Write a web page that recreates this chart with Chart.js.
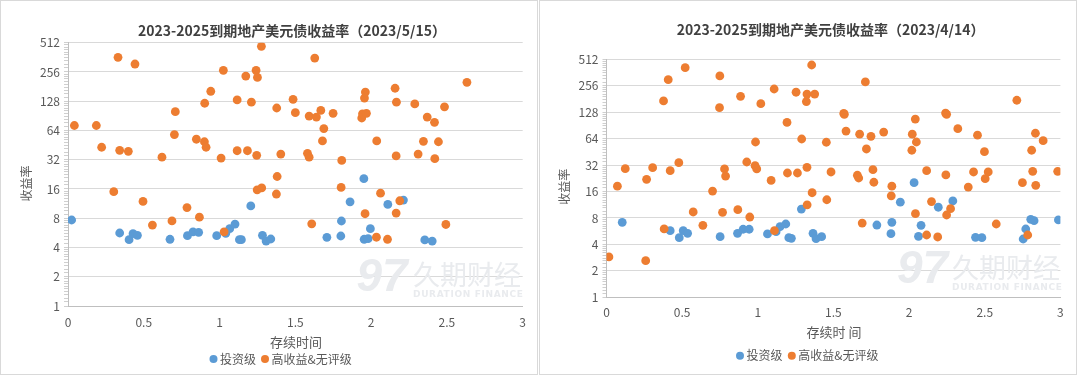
<!DOCTYPE html>
<html>
<head>
<meta charset="utf-8">
<script src="https://cdn.jsdelivr.net/npm/chart.js@4"></script>
<style>
  body { margin: 0; background: #fff; }
  .panel { position: absolute; top: 0; width: 538px; height: 375px; border: 1px solid #d9d9d9; box-sizing: border-box; }
  #p1 { left: 0; }
  #p2 { left: 539px; }
  canvas { display: block; }
</style>
</head>
<body>
<div class="panel" id="p1"><canvas id="c1" width="536" height="373"></canvas></div>
<div class="panel" id="p2"><canvas id="c2" width="536" height="373"></canvas></div>
<script>
// 系列名 / 刻度
const seriesNames = ['投资级', '高收益&无评级'];
const yTickLabels = [1, 2, 4, 8, 16, 32, 64, 128, 256, 512];
const xTickLabels = [0, 0.5, 1, 1.5, 2, 2.5, 3];

// 2023/5/15 投资级
const mayInvX = [0.024, 0.341, 0.403, 0.429, 0.458, 0.673, 0.788, 0.825, 0.862, 0.981, 1.041, 1.067, 1.102, 1.131, 1.144, 1.206,
  1.283, 1.307, 1.338, 1.708, 1.8, 1.804, 1.861, 1.952, 1.954, 1.98, 1.995, 2.11, 2.213, 2.354, 2.403];
const mayInvY = [7.67, 5.64, 4.81, 5.55, 5.33, 4.86, 5.29, 5.8, 5.73, 5.29, 5.6, 6.24, 6.97, 4.81, 4.81, 10.7,
  5.33, 4.66, 4.89, 5.09, 5.25, 7.49, 11.8, 20.4, 4.86, 4.93, 6.24, 11.1, 12.3, 4.78, 4.66];
// 2023/5/15 高收益&无评级
const mayHyX = [0.042, 0.187, 0.222, 0.302, 0.33, 0.341, 0.398, 0.442, 0.495, 0.557, 0.62, 0.686, 0.702, 0.708, 0.785, 0.847,
  0.867, 0.9, 0.902, 0.911, 0.942, 1.01, 1.025, 1.03, 1.116, 1.116, 1.173, 1.184, 1.21, 1.241, 1.245, 1.248, 1.25, 1.276,
  1.278, 1.375, 1.377, 1.38, 1.404, 1.485, 1.5, 1.58, 1.591, 1.591, 1.608, 1.628, 1.639, 1.668, 1.679, 1.688, 1.749, 1.802,
  1.806, 1.938, 1.943, 1.956, 1.96, 1.962, 1.969, 2.035, 2.037, 2.062, 2.108, 2.158, 2.165, 2.165, 2.167, 2.189, 2.288,
  2.31, 2.345, 2.37, 2.418, 2.42, 2.444, 2.484, 2.493, 2.632];
const mayHyY = [72, 72, 43, 15, 362, 40, 39, 309, 11.9, 6.8, 34, 7.5, 58, 100, 10.3, 52,
  8.2, 49, 122, 43, 162, 33.3, 266, 5.8, 132, 39.6, 232, 39.6, 125, 266, 35.5, 15.7, 225, 470,
  16.4, 14.2, 109, 21.5, 36.6, 134, 97.5, 37.2, 34, 90, 7, 356, 88, 103, 50, 67, 96, 16.6,
  31.5, 86, 95, 138, 8.9, 159, 96, 5.1, 50, 14.5, 4.86, 174, 9.05, 35, 125, 12.1, 120,
  36.6, 49.5, 88, 77.6, 32.8, 49, 112, 6.9, 200];

// 2023/4/14 投资级
const aprInvX = [0.104, 0.421, 0.481, 0.507, 0.536, 0.751, 0.866, 0.903, 0.943, 1.064, 1.121, 1.147, 1.185, 1.205, 1.222,
  1.288, 1.365, 1.385, 1.422, 1.787, 1.88, 1.886, 1.942, 2.033, 2.062, 2.079, 2.193, 2.289, 2.439, 2.481, 2.754, 2.771,
  2.804, 2.826, 2.987];
const aprInvY = [7.14, 5.73, 4.77, 5.73, 5.35, 4.9, 5.35, 5.95, 5.95, 5.26, 5.58, 6.37, 6.83, 4.77, 4.69,
  10.1, 5.35, 4.65, 4.9, 6.65, 5.3, 7.14, 12.1, 20.2, 4.95, 6.6, 10.6, 12.5, 4.82, 4.77, 4.61, 5.99,
  7.73, 7.45, 7.59];
// 2023/4/14 高收益&无评级
const aprHyX = [0.016, 0.072, 0.124, 0.259, 0.265, 0.305, 0.377, 0.381, 0.408, 0.421, 0.478, 0.52, 0.573, 0.637, 0.701,
  0.747, 0.749, 0.767, 0.78, 0.787, 0.868, 0.886, 0.927, 0.947, 0.982, 0.985, 0.993, 1.02, 1.088, 1.108, 1.11, 1.193,
  1.196, 1.253, 1.262, 1.29, 1.321, 1.325, 1.325, 1.326, 1.356, 1.359, 1.376, 1.453, 1.456, 1.484, 1.568, 1.572, 1.583,
  1.658, 1.667, 1.673, 1.69, 1.711, 1.718, 1.748, 1.761, 1.767, 1.832, 1.882, 1.886, 2.018, 2.021, 2.041, 2.042, 2.048,
  2.116, 2.116, 2.148, 2.189, 2.241, 2.243, 2.248, 2.248, 2.274, 2.322, 2.391, 2.426, 2.452, 2.498, 2.503, 2.523, 2.576,
  2.712, 2.749, 2.784, 2.81, 2.817, 2.835, 2.837, 2.886, 2.982];
const aprHyY = [2.88, 18.4, 29.1, 2.61, 22, 29.9, 172, 6, 300, 27.6, 34.1, 411, 9.36, 6.6, 16.2,
  144, 331, 9.28, 28.9, 24, 9.94, 194, 34.7, 8.2, 31.5, 58.6, 28.9, 160, 21.4, 235, 5.73, 98,
  26, 216, 26, 63.4, 169, 206, 30.2, 11.3, 441, 15.5, 206, 58.2, 12.9, 26.7, 124, 121, 78,
  24.5, 22.8, 72, 7, 283, 48.8, 68, 28.4, 20.4, 76, 14.3, 18.4, 47.2, 72, 107, 8.95, 58.6,
  27.6, 5.12, 12.3, 4.86, 125, 24.7, 121, 8.65, 10.2, 83, 18, 26.7, 70, 45.5, 22.4, 26.7, 6.83,
  175, 20.2, 5.12, 47.2, 27.2, 73.7, 18.8, 60.7, 27.2];

const FONT = '"Noto Sans CJK SC", "Noto Sans", sans-serif';
const BLUE = '#5b9bd5';
const ORANGE = '#ed7d31';
const W = 536, H = 373;

function zip(xs, ys) {
  return xs.map((x, i) => ({ x: x, y: ys[i] }));
}

function isMajor(v) {
  return yTickLabels.indexOf(v) >= 0;
}

// 主刻度 + 次刻度
function yTickValues() {
  const out = [];
  for (let i = 0; i < yTickLabels.length - 1; i++) {
    const a = yTickLabels[i], b = yTickLabels[i + 1];
    out.push(a);
    for (let k = 1; k < 10; k++) out.push(a + (b - a) * k / 10);
  }
  out.push(yTickLabels[yTickLabels.length - 1]);
  return out;
}

const textPlugin = {
  id: 'texts',
  beforeDatasetsDraw(chart, args, o) {
    const ctx = chart.ctx;
    const wm = o.wm;
    ctx.save();
    ctx.fillStyle = '#e9ebee';
    ctx.textBaseline = 'middle';
    ctx.textAlign = 'center';
    ctx.font = 'italic bold 46px "Liberation Sans"';
    ctx.fillText('97', wm.logoX, wm.logoY);
    ctx.textAlign = 'left';
    ctx.font = '27px ' + FONT;
    ctx.fillText('久期财经', wm.x, wm.y);
    ctx.font = 'bold 9px "DejaVu Sans"';
    const s = 'DURATION FINANCE';
    const w0 = ctx.measureText(s).width;
    ctx.letterSpacing = ((110 - w0) / (s.length - 1)).toFixed(2) + 'px';
    ctx.fillText(s, wm.x, wm.subY);
    ctx.restore();
  },
  afterDraw(chart, args, o) {
    const ctx = chart.ctx;
    ctx.save();
    ctx.textBaseline = 'middle';
    // 标题
    ctx.fillStyle = '#404040';
    ctx.textAlign = 'center';
    ctx.font = 'bold 14px ' + FONT;
    ctx.fillText(o.title, o.titleX, o.titleY);
    // 坐标轴标题
    ctx.fillStyle = '#595959';
    ctx.font = '13px ' + FONT;
    ctx.fillText(o.xTitle, o.xTitleX, o.xTitleY);
    ctx.save();
    ctx.translate(o.yTitleX, o.yTitleY);
    ctx.rotate(-Math.PI / 2);
    ctx.font = '12px ' + FONT;
    ctx.fillText('收益率', 0, 0);
    ctx.restore();
    // 图例
    ctx.font = '12px ' + FONT;
    ctx.textAlign = 'left';
    [BLUE, ORANGE].forEach((c, i) => {
      const mx = o.legendX[i];
      ctx.fillStyle = c;
      ctx.beginPath();
      ctx.arc(mx, o.legendY, 4, 0, Math.PI * 2);
      ctx.fill();
      ctx.fillStyle = '#595959';
      ctx.fillText(seriesNames[i], mx + 6.5, o.legendY);
    });
    ctx.restore();
  }
};

function makeChart(id, invX, invY, hyX, hyY, o) {
  const area = o.area;
  return new Chart(document.getElementById(id), {
    type: 'scatter',
    data: {
      datasets: [{
        label: seriesNames[0],
        data: zip(invX, invY),
        backgroundColor: BLUE,
        borderWidth: 0,
        pointRadius: 4.4,
        order: 1
      }, {
        label: seriesNames[1],
        data: zip(hyX, hyY),
        backgroundColor: ORANGE,
        borderWidth: 0,
        pointRadius: 4.4,
        order: 0
      }]
    },
    options: {
      responsive: false,
      animation: false,
      layout: { padding: { left: 0, top: area.top, right: W - area.right, bottom: 0 } },
      scales: {
        x: {
          type: 'linear',
          min: 0,
          max: 3,
          afterBuildTicks: s => { s.ticks = xTickLabels.map(v => ({ value: v })); },
          afterFit: s => { s.height = H - area.bottom; },
          ticks: { padding: o.xTickPad, color: '#595959', font: { size: 12, family: FONT }, callback: v => String(v) },
          grid: { display: false, drawTicks: false },
          border: { display: true, color: '#bfbfbf' }
        },
        y: {
          type: 'logarithmic',
          min: 1,
          max: 512,
          afterBuildTicks: s => { s.ticks = yTickValues().map(v => ({ value: v })); },
          afterFit: s => { s.width = area.left; },
          ticks: {
            autoSkip: false,
            padding: 4,
            color: '#595959',
            font: { size: 12, family: FONT },
            callback: v => isMajor(v) ? String(v) : ''
          },
          grid: {
            color: c => (c.tick && isMajor(c.tick.value)) ? '#d9d9d9' : 'rgba(0,0,0,0)',
            tickColor: '#cfcfcf',
            tickLength: 4
          },
          border: { display: true, color: '#bfbfbf' }
        }
      },
      plugins: {
        legend: { display: false },
        tooltip: { enabled: false },
        texts: o
      }
    },
    plugins: [textPlugin]
  });
}

makeChart('c1', mayInvX, mayInvY, mayHyX, mayHyY, {
  area: { left: 67, right: 521.7, top: 41.7, bottom: 305 },
  xTickPad: 9.5,
  title: '2023-2025到期地产美元债收益率（2023/5/15）',
  titleX: 291, titleY: 29.7,
  xTitle: '存续时间', xTitleX: 295, xTitleY: 340.7,
  yTitleX: 25, yTitleY: 182.5,
  legendX: [212.5, 264], legendY: 358,
  wm: { logoX: 381, logoY: 277, x: 412, y: 274, subY: 294 }
});

makeChart('c2', aprInvX, aprInvY, aprHyX, aprHyY, {
  area: { left: 66.5, right: 520.4, top: 58.3, bottom: 296.3 },
  xTickPad: 7.5,
  title: '2023-2025到期地产美元债收益率（2023/4/14）',
  titleX: 290.6, titleY: 29,
  xTitle: '存续时 间', xTitleX: 294, xTitleY: 331,
  yTitleX: 24.5, yTitleY: 185.7,
  legendX: [200, 251.8], legendY: 354.7,
  wm: { logoX: 382.5, logoY: 269, x: 412, y: 266.5, subY: 286.5 }
});
</script>
</body>
</html>
